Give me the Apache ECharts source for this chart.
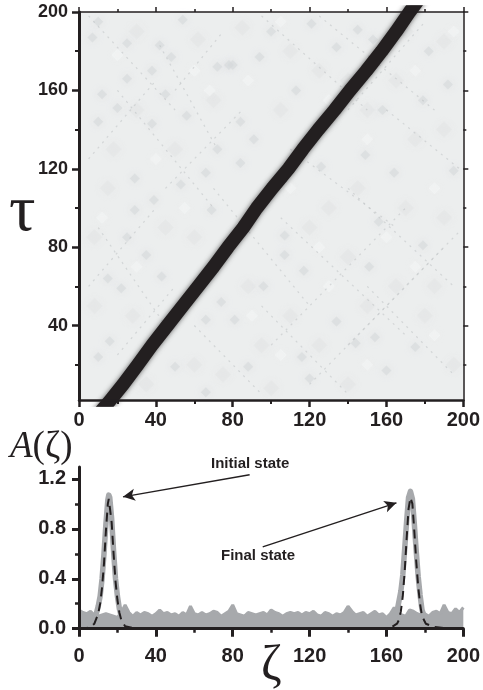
<!DOCTYPE html>
<html><head><meta charset="utf-8">
<style>html,body{margin:0;padding:0;background:#fff}#c{width:483px;height:690px}</style>
<script src="https://cdn.jsdelivr.net/npm/echarts@6/dist/echarts.min.js"></script>
</head><body><div id="c"></div>
<script>
// Ridge of the upper map: centre of the dark band
const bandZeta = [9.5,16.4,23,30.6,38,46,54,62,70,77.5,85.5,92.5,100.5,109,116.5,124.5,133,141,149.5,157.5,165,172,178];
const bandTau  = [-6,2,10,20,30,40,50,60,70,80,90,100,110,120,130,140,150,160,170,180,190,200,208];

const darkSpots = [[10,195],[54,196],[25,184],[7,187],[38,170],[78,173],[72,172],[25,166],[12,158],[45,158],[20,151],[56,147],[10,144],[38,143],[29,115],[53,112],[72,130],[66,118],[42,183],[48,177],[39,104],[80,173],[113,160],[94,177],[121,194],[100,190],[158,150],[182,180],[192,163],[179,155],[149,127],[164,118],[126,121],[91,135],[84,123],[84,144],[195,119],[153,186],[134,182],[145,191],[107,86],[107,76],[96,60],[117,68],[151,70],[156,93],[179,81],[134,42],[144,31],[160,17],[120,13],[175,29],[88,19],[81,43],[116,24],[154,34],[15,64],[43,65],[22,59],[25,85],[29,99],[66,43],[10,24],[16,32],[50,19],[69,99],[35,76],[74,52],[66,6]];
const midSpots = [[30,190],[62,186],[85,192],[110,180],[125,170],[140,165],[170,190],[190,185],[165,165],[150,150],[130,145],[105,150],[175,135],[190,140],[145,110],[170,100],[190,95],[130,100],[120,90],[140,75],[165,60],[185,60],[110,45],[125,30],[95,30],[150,50],[180,45],[195,20],[140,10],[100,8],[75,15],[88,60],[60,20],[35,10],[8,50],[28,45],[8,85],[15,110],[45,90],[60,85],[18,130],[50,130],[30,150],[70,155]];
const lightSpots = [[20,178],[68,160],[88,165],[105,195],[130,155],[175,170],[150,135],[185,110],[160,85],[130,60],[175,70],[105,25],[150,20],[185,35],[90,45],[40,30],[30,70],[12,95],[55,100],[40,125],[60,170],[110,110],[195,190],[125,80]];

// Dotted streaks in the map: [zeta0, tau0, zeta1, tau1]
const streaks = [[42,183,72,130],[5,198,50,150],[20,160,70,100],[95,198,150,150],[110,130,165,90],[140,110,195,60],[105,95,170,35],[150,60,195,15],[70,110,120,50],[95,50,140,5],[60,40,95,5],[10,90,45,40],[125,198,185,150],[160,150,198,120],
  [100,30,170,100],[140,30,190,80],[120,10,198,88],[90,100,110,115],[5,60,40,100],[20,25,50,60],[140,150,180,195],[45,110,85,150],[5,125,40,165],[50,160,75,190]];

// Lower panel: upper edge of the grey noise, one value every 2 units of zeta
const noiseEdge = [
 .15,.13,.12,.14,.11,.10,.11,.12,.11,.10,
 .09,.13,.19,.13,.10,.13,.11,.13,.12,.10,
 .12,.15,.12,.13,.11,.12,.10,.13,.11,.18,
 .12,.11,.13,.11,.12,.14,.13,.10,.12,.14,
 .19,.12,.11,.10,.13,.12,.11,.12,.13,.11,
 .15,.13,.12,.10,.12,.13,.12,.13,.11,.13,
 .12,.14,.11,.10,.13,.12,.10,.12,.11,.13,
 .18,.14,.11,.12,.13,.10,.12,.14,.11,.12,
 .09,.12,.17,.12,.11,.10,.15,.14,.12,.11,
 .12,.10,.13,.14,.12,.19,.13,.12,.16,.13,.17];

// Grey measured trace around the two peaks (null splits them)
const traceZeta = [6,8,9,10,11,12,13,14,15,15.5,16,17,18,19,20,21,22,24,26,null,161.5,163.5,165.5,166.5,167.5,168.5,169.5,170.5,171.5,172.5,173.5,174.5,175.5,176.5,177.5,178.5,180.5,182.5];
const traceA    = [.02,.06,.12,.18,.26,.40,.60,.84,1.03,1.07,1.05,.88,.62,.40,.26,.16,.10,.04,.02,null,.03,.07,.14,.22,.30,.43,.64,.86,1.05,1.10,1.04,.84,.62,.42,.27,.15,.06,.02];

// Dashed fit along the whole range
const fitZeta = [0,4,6,8,10,11,12,13,14,15,15.5,16,17,18,19,20,21,22,24,28,40,158,162.5,165.5,166.5,167.5,168.5,169.5,170.5,171.5,172.5,173.5,174.5,175.5,176.5,177.5,178.5,180.5,184.5,190.5,200];
const fitA    = [0,.005,.015,.04,.12,.20,.33,.52,.78,1.0,1.04,1.03,.85,.60,.38,.23,.13,.07,.02,.005,0,0,.01,.04,.07,.14,.26,.46,.72,.96,1.05,1.0,.78,.54,.34,.20,.10,.04,.015,.005,0];

// Tick values
const mapMajor = [0,40,80,120,160,200];
const mapMinor = [20,60,100,140,180];
const mapTauMajor = [40,80,120,160,200];
const lowYMajor = [0,0.4,0.8,1.2];
const lowYMinor = [0.2,0.6,1.0];

// Arrows [zeta0,A0,zeta1,A1]
const arrowInitial = [88.8,1.233,22.9,1.056];
const arrowFinal = [95.6,.655,165.2,1.008];

const ink = '#231f20', grey = '#a7a9ac';
const xAxes = [], yAxes = [];
function ax(list, o){
  list.push({
    gridIndex:o.g, type:'value', position:o.pos, min:o.min, max:o.max, z:10, splitLine:{show:false},
    axisLine:{show:o.lw>0, onZero:false, lineStyle:{color:ink,width:o.lw||1}},
    axisTick:{show:true, inside:false, length:o.len, customValues:o.ticks, lineStyle:{color:ink,width:o.tw}},
    axisLabel:o.fs?{show:true, margin:o.margin, customValues:o.ticks, color:ink, fontFamily:'Liberation Sans', fontWeight:'bold', fontSize:o.fs,
      formatter:o.fmt||(v=>String(v)), showMinLabel:true, showMaxLabel:true, hideOverlap:false}:{show:false}
  });
  return list.length-1;
}
// upper grid 0
ax(xAxes,{g:0,pos:'bottom',min:0,max:200,lw:2.5,len:7,tw:2.5,ticks:mapMajor,fs:20,margin:10});
ax(xAxes,{g:0,pos:'bottom',min:0,max:200,lw:0,len:4,tw:2,ticks:mapMinor});
ax(xAxes,{g:0,pos:'top',min:0,max:200,lw:1.5,len:5,tw:1.5,ticks:mapMajor});
ax(xAxes,{g:0,pos:'top',min:0,max:200,lw:0,len:3,tw:1.5,ticks:mapMinor});
ax(yAxes,{g:0,pos:'left',min:2,max:200,lw:3,len:7,tw:2.5,ticks:mapTauMajor,fs:18,margin:11});
ax(yAxes,{g:0,pos:'left',min:2,max:200,lw:0,len:4,tw:2,ticks:mapMinor});
ax(yAxes,{g:0,pos:'right',min:2,max:200,lw:1.5,len:5,tw:1.5,ticks:mapTauMajor});
ax(yAxes,{g:0,pos:'right',min:2,max:200,lw:0,len:3,tw:1.5,ticks:mapMinor});
// lower grid 1
const lx = ax(xAxes,{g:1,pos:'bottom',min:0,max:200,lw:3,len:8,tw:3,ticks:mapMajor,fs:20,margin:18});
ax(xAxes,{g:1,pos:'bottom',min:0,max:200,lw:0,len:4,tw:2.5,ticks:mapMinor});
const ly = ax(yAxes,{g:1,pos:'left',min:0,max:1.295,lw:3,len:7,tw:3,ticks:lowYMajor,fs:20,margin:13,fmt:v=>v.toFixed(1)});
ax(yAxes,{g:1,pos:'left',min:0,max:1.295,lw:0,len:4,tw:2.5,ticks:lowYMinor});

const spot = (data,size,color,blur)=>({type:'scatter',xAxisIndex:0,yAxisIndex:0,data,symbol:'diamond',symbolSize:size,silent:true,
  itemStyle:{color,shadowBlur:blur,shadowColor:color},z:2});
const seg = s=>({coords:[[s[0],s[1]],[s[2],s[3]]]});
const arrowLine = a=>({type:'line',xAxisIndex:lx,yAxisIndex:ly,data:[],silent:true,markLine:{silent:true,animation:false,symbol:['none','arrow'],symbolSize:[9,12],
  label:{show:false},lineStyle:{color:ink,width:1.4,type:'solid'},data:[[{coord:[a[0],a[1]]},{coord:[a[2],a[3]]}]]},z:8});

const chart = echarts.init(document.getElementById('c'),null,{renderer:'canvas'});
chart.setOption({
  animation:false, backgroundColor:'#fff',
  grid:[
    {left:79,top:12,width:389,height:388,show:true,backgroundColor:'#eceeee',borderWidth:0},
    {left:79,top:467,width:385,height:161.7,show:false}
  ],
  xAxis:xAxes, yAxis:yAxes,
  series:[
    spot(midSpots,16,'rgba(226,228,229,0.7)',8),
    spot(lightSpots,12,'rgba(247,248,248,0.55)',8),
    spot(darkSpots,10,'rgba(212,215,217,0.7)',7),
    {type:'lines',coordinateSystem:'cartesian2d',xAxisIndex:0,yAxisIndex:0,silent:true,z:3,
      data:streaks.map(seg),lineStyle:{color:'#b9bdc0',width:1.2,opacity:.5,type:[2,5]}},
    {type:'line',xAxisIndex:0,yAxisIndex:0,data:bandZeta.map((z,i)=>[z,bandTau[i]]),symbol:'none',clip:true,silent:true,z:5,
      lineStyle:{color:'#231f20',width:13.5,shadowBlur:5,shadowColor:'rgba(60,60,60,0.8)',cap:'butt',join:'round'}},
    {type:'line',xAxisIndex:lx,yAxisIndex:ly,data:noiseEdge.map((v,i)=>[i*2,v]),symbol:'none',silent:true,z:3,
      lineStyle:{color:grey,width:3},areaStyle:{color:grey,opacity:1}},
    {type:'line',xAxisIndex:lx,yAxisIndex:ly,data:traceZeta.map((z,i)=>[z,traceA[i]]),symbol:'none',silent:true,z:4,connectNulls:false,
      lineStyle:{color:grey,width:5.5,join:'round'}},
    {type:'line',xAxisIndex:lx,yAxisIndex:ly,data:fitZeta.map((z,i)=>[z,fitA[i]]),symbol:'none',silent:true,z:6,
      lineStyle:{color:ink,width:2,type:[9,6]}},
    arrowLine(arrowInitial), arrowLine(arrowFinal)
  ],
  graphic:[
    {type:'text',left:9,top:180,style:{text:'τ',fontFamily:'Liberation Serif',fontSize:66,fill:ink}},
    {type:'text',left:10,top:429,style:{text:'{a|A}{b|(ζ)}',rich:{a:{fontFamily:'Liberation Serif',fontStyle:'italic',fontSize:37,fill:ink},b:{fontFamily:'Liberation Serif',fontSize:37,fill:ink}}}},
    {type:'text',left:261,top:642,style:{text:'ζ',fontFamily:'Liberation Serif',fontSize:50,fill:ink}},
    {type:'text',left:211,top:456,style:{text:'Initial state',fontFamily:'Liberation Sans',fontWeight:'bold',fontSize:15,fill:ink}},
    {type:'text',left:221,top:548,style:{text:'Final state',fontFamily:'Liberation Sans',fontWeight:'bold',fontSize:15,fill:ink}}
  ]
});
</script></body></html>
